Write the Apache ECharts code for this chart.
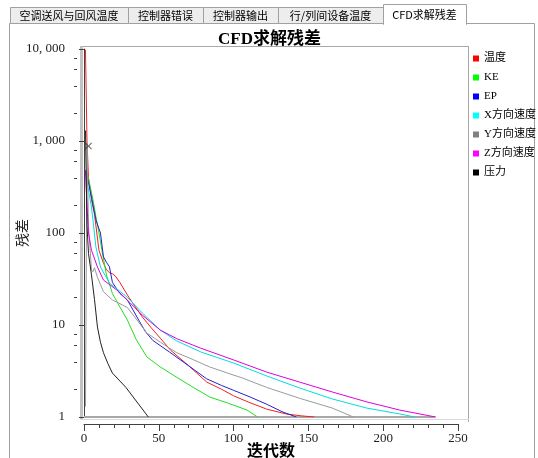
<!DOCTYPE html>
<html><head><meta charset="utf-8">
<script src="https://cdn.jsdelivr.net/npm/echarts@6/dist/echarts.min.js"></script>
<style>html,body{margin:0;padding:0;background:#fff;}#c{width:538px;height:458px;}</style>
</head><body><div id="c"></div>
<script>
// ---- data ----
const seriesNames = ['温度','KE','EP','X方向速度','Y方向速度','Z方向速度','压力'];
const tabLabels = ['空调送风与回风温度','控制器错误','控制器输出','行/列间设备温度','CFD求解残差'];
const xTickValues = [0,50,100,150,200,250];
const xTickLabels = ['0','50','100','150','200','250'];
const yTickValues = [1,10,100,1000,10000];
const yTickLabels = ['1','10','100','1, 000','10, 000'];
const yMinorTicks = [2,4,6,8,20,40,60,80,200,400,600,800,2000,4000,6000,8000];

const tempIter = [1,2,3,5,7,10,13,15,17,19,21,24,27,30,34,39,45,51,58,70,82,92,100,110,122,135,145,154];
const tempVal  = [9800,1000,400,230,160,65,47,40,37,36,34,29,24,20,16,12.2,9.3,7.2,5.3,3.6,2.4,2.0,1.7,1.45,1.22,1.08,1.03,1];

const keIter = [1,2,4,6,8,10,12,15,19,24,29,35,42,51,62,73,84,96,109,116];
const keVal  = [480,450,330,230,150,100,65,35,22,15.7,11.3,6.9,4.5,3.5,2.7,2.1,1.65,1.42,1.19,1];

const epIter = [1,2,5,8,11,13,15,17,19,24,29,37,41,46,57,70,82,92,100,111,122,133,142];
const epVal  = [480,420,246,138,100,55,48,43,29,22,18.7,11,8.5,6.8,5.1,3.6,2.6,2.2,1.95,1.65,1.38,1.13,1];

const xvIter = [1,2,3,5,6,8,11,17,29,39,51,62,78,100,122,144,166,189,211,221];
const xvVal  = [480,350,293,191,138,70,42.7,28.6,20,13.5,8.8,6.7,5.1,3.86,2.8,2.07,1.57,1.25,1.08,1];

const yvIter = [1,2,3,5,6,7,9,13,19,29,42,51,62,73,84,96,106,122,144,166,180];
const yvVal  = [1.3,950,120,40,38,42,33,23,18.7,15.5,8.2,6.5,5.0,4.2,3.5,3.0,2.65,2.1,1.6,1.25,1];

const zvIter = [1,2,3,5,9,13,22,31,39,51,62,78,100,122,144,166,189,211,235];
const zvVal  = [480,200,100,65,42.7,30.8,24,17.3,12.8,8.8,7.1,5.6,4.17,3.08,2.4,1.87,1.46,1.19,1];

const pIter = [1,2,3,5,7,9,11,13,16,19,28,43];
const pVal  = [1300,120,60,35,19,9.5,6.5,5,3.8,3.0,2.1,1];

const baseIter = [0,235];
const baseVal  = [1,1];

const markIter = [3];
const markVal  = [880];

// ---- styles ----
const lineColors   = ['#ee2222','#22dd22','#2424c8','#00dddd','#9a9a9a','#dd00dd','#222222'];
const legendColors = ['#ff0000','#00ff00','#0000ff','#00ffff','#808080','#ff00ff','#000000'];
const iters = [tempIter,keIter,epIter,xvIter,yvIter,zvIter,pIter];
const vals  = [tempVal,keVal,epVal,xvVal,yvVal,zvVal,pVal];

const serifCJK = '"Liberation Serif","Noto Sans CJK SC",serif';
const cjk = '"Noto Sans CJK SC",sans-serif';

const pair = (a,b) => a.map((x,i)=>[x,b[i]]);

const series = [];
series.push({name:'base', type:'line', data: pair(baseIter, baseVal), symbol:'none',
  lineStyle:{width:2,color:'#a8a8a8'}, z:2, silent:true, animation:false});
seriesNames.forEach((n,i)=>{
  series.push({name:n, type:'line', data: pair(iters[i], vals[i]), symbol:'none', showSymbol:false,
    lineStyle:{width:1,color:lineColors[i]}, itemStyle:{color:lineColors[i]}, z:3, animation:false});
});
series.push({name:'mark', type:'scatter', data: pair(markIter, markVal),
  symbol:'path://M0,1L1,0L5,4L9,0L10,1L6,5L10,9L9,10L5,6L1,10L0,9L4,5Z', symbolSize:7,
  itemStyle:{color:'#333'}, z:4, silent:true, animation:false});
series.push({name:'yminor', type:'custom', data: yMinorTicks.map(v=>[0,v]), clip:false, silent:true, z:5,
  animation:false,
  renderItem:(params, api)=>{
    const p = api.coord([0, api.value(1)]);
    const y = Math.round(p[1]) + 0.5;
    return {type:'line', shape:{x1:p[0]-7-3, y1:y, x2:p[0]-7, y2:y}, style:{stroke:'#404040', lineWidth:1}};
  }});

// ---- chrome (tabs / frame) ----
const tabEdges = [10,128,203,278,383,466];
const graphics = [];
graphics.push({type:'rect', z:0, shape:{x:9.5,y:23.5,width:525,height:450}, style:{fill:'#fff',stroke:'#a0a0a0',lineWidth:1}});
for (let i=0;i<4;i++){
  graphics.push({type:'rect', z:0, shape:{x:tabEdges[i]+0.5,y:7.5,width:tabEdges[i+1]-tabEdges[i],height:16},
    style:{fill:'#ededed',stroke:'#a0a0a0',lineWidth:1}});
  graphics.push({type:'text', z:1, x:(tabEdges[i]+tabEdges[i+1])/2, y:16,
    style:{text:tabLabels[i], font:'11px '+cjk, fill:'#000', align:'center', verticalAlign:'middle'}});
}
graphics.push({type:'rect', z:0, shape:{x:383.5,y:4.5,width:83,height:20}, style:{fill:'#fff',stroke:'#a0a0a0',lineWidth:1}});
graphics.push({type:'rect', z:0, shape:{x:384,y:23,width:82,height:3}, style:{fill:'#fff'}});
graphics.push({type:'text', z:1, x:424.5, y:15,
  style:{text:tabLabels[4], font:'11px '+cjk, fill:'#000', align:'center', verticalAlign:'middle'}});
// plot frame
graphics.push({type:'line', z:0, shape:{x1:81,y1:46.5,x2:469,y2:46.5}, style:{stroke:'#a8a8a8',lineWidth:1}});
graphics.push({type:'line', z:0, shape:{x1:468.5,y1:46,x2:468.5,y2:422}, style:{stroke:'#a8a8a8',lineWidth:1}});
graphics.push({type:'rect', z:0, shape:{x:80,y:46,width:3,height:374}, style:{fill:'#c2c2c2'}});
graphics.push({type:'line', z:0, shape:{x1:80,y1:419.5,x2:469,y2:419.5}, style:{stroke:'#dadada',lineWidth:1}});

const chart = echarts.init(document.getElementById('c'), null, {renderer:'canvas'});
chart.setOption({
  animation:false,
  backgroundColor:'#fff',
  graphic: graphics,
  title:{text:'CFD求解残差', left:213, top:26,
    textStyle:{fontSize:17, fontWeight:'bold', fontFamily:serifCJK, color:'#000'}},
  legend:{
    orient:'vertical', left:468, top:47, icon:'rect', itemWidth:6, itemHeight:6, itemGap:6,
    textStyle:{fontSize:11, lineHeight:13, fontFamily:serifCJK, color:'#000'},
    data: seriesNames.map((n,i)=>({name:n, itemStyle:{color:legendColors[i]}})),
    selectedMode:false
  },
  grid:{left:84, top:49, right:80, bottom:41, containLabel:false, outerBoundsMode:'none'},
  xAxis:{
    type:'value', min:0, max:250, interval:50, offset:7,
    name:'迭代数', nameLocation:'middle', nameGap:28, nameMoveOverlap:false,
    nameTextStyle:{fontSize:16, fontWeight:'bold', fontFamily:serifCJK, color:'#000', verticalAlign:'middle'},
    axisLine:{show:true, lineStyle:{color:'#404040', width:1}},
    axisTick:{show:true, length:7, lineStyle:{color:'#404040'}},
    minorTick:{show:true, splitNumber:5, length:4, lineStyle:{color:'#404040'}},
    splitLine:{show:false},
    axisLabel:{margin:8, fontSize:13, fontFamily:serifCJK, color:'#222',
      formatter:v=>{const k=xTickValues.indexOf(v); return k>=0?xTickLabels[k]:'';}}
  },
  yAxis:{
    type:'log', logBase:10, min:1, max:10000, offset:7,
    name:'残差', nameLocation:'middle', nameGap:55, nameMoveOverlap:false,
    nameTextStyle:{fontSize:14, fontFamily:cjk, color:'#222', verticalAlign:'middle'},
    axisLine:{show:true, lineStyle:{color:'#404040', width:1}},
    axisTick:{show:true, length:5, lineStyle:{color:'#404040'}},
    minorTick:{show:false},
    splitLine:{show:false},
    axisLabel:{margin:12, fontSize:13, fontFamily:serifCJK, color:'#222',
      formatter:v=>{const k=Math.round(Math.log10(v)); return yTickLabels[k]||'';}}
  },
  series: series
});
</script>
</body></html>
